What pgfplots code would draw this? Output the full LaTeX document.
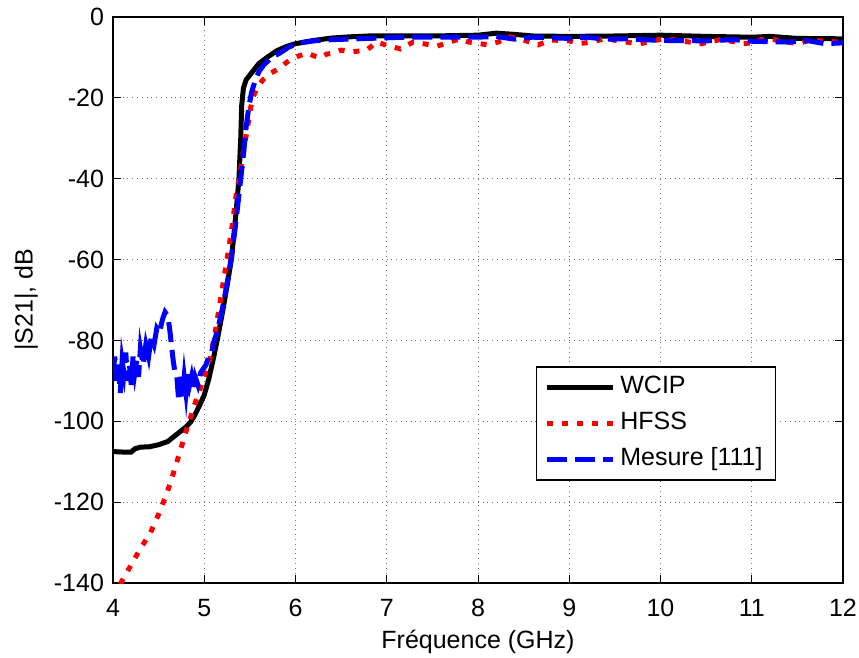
\documentclass[border=0pt]{standalone}
\usepackage{fontspec}
\setmainfont{Liberation Sans}
\usepackage{pgfplots}
\pgfplotsset{compat=1.18}
\newcommand{\ff}{\fontsize{12.5}{15}\selectfont}
\begin{document}
\begin{tikzpicture}
\begin{axis}[
  scale only axis, width=365pt, height=283pt,
  xmin=4, xmax=12, ymin=-140, ymax=0,
  xtick={4,5,...,12}, ytick={-140,-120,...,0},
  /pgf/number format/assume math mode=true,
  grid=major,
  major grid style={dotted, black!55, line width=0.5pt},
  tick align=inside, major tick length=4pt,
  tick style={black, line width=0.5pt},
  axis line style={line width=0.7pt},
  tick label style={font=\ff},
  xticklabel style={yshift=-4.5pt},
  yticklabel style={xshift=-1pt},
  label style={font=\ff},
  xlabel={Fréquence (GHz)},
  ylabel={|S21|, dB},
  xlabel style={at={(axis description cs:0.5,0)}, anchor=base, yshift=-32.5pt},
  ylabel style={at={(axis description cs:-0.119,0.5)}, anchor=center},
  legend style={at={(0.579,0.383)}, anchor=north west, font=\ff,
    draw=black, line width=0.7pt, inner xsep=4pt, inner ysep=2pt,
    row sep=1.5pt,
    nodes={inner sep=2.5pt, text height=9pt, text depth=2.5pt}},
  legend cell align=left,
  legend image code/.code={\draw[#1] (0pt,0pt) -- (33pt,0pt);},
]
\addplot[black, line width=2.5pt] coordinates {
(4.00,-107.5) (4.10,-107.6) (4.20,-107.6) (4.24,-106.8) (4.30,-106.4)
(4.40,-106.3) (4.50,-105.8) (4.60,-105.0) (4.70,-103.2) (4.80,-101.4)
(4.85,-100.2) (4.90,-98.3) (4.95,-96.0) (5.00,-93.5) (5.05,-89.5)
(5.10,-84.5) (5.15,-79.0) (5.20,-73.0) (5.25,-66.5) (5.30,-59.5)
(5.35,-48.0) (5.38,-40.0) (5.40,-30.0) (5.41,-22.0) (5.43,-17.5)
(5.46,-15.5) (5.53,-13.5) (5.60,-11.5) (5.70,-9.8) (5.80,-8.3)
(5.90,-7.3) (6.00,-6.6) (6.20,-5.8) (6.40,-5.2) (6.60,-4.9)
(6.80,-4.7) (7.00,-4.7) (7.50,-4.7) (8.00,-4.5) (8.20,-4.0)
(8.40,-4.3) (8.60,-4.7) (9.00,-4.8) (9.50,-4.7) (10.00,-4.5)
(10.50,-4.8) (11.00,-5.0) (11.20,-4.8) (11.50,-5.3) (12.00,-5.4)
};
\addlegendentry{WCIP}
\addplot[red, line width=2.5pt, line cap=butt, dash pattern=on 3pt off 4.5pt] coordinates {
(4.00,-143.5) (4.11,-139) (4.20,-135.5) (4.30,-131.5) (4.41,-127.6)
(4.50,-123) (4.59,-117.8) (4.66,-113) (4.73,-107.8) (4.80,-102.5)
(4.84,-99.7) (4.90,-95.5) (4.95,-92.3) (5.00,-89) (5.06,-84.8)
(5.12,-78) (5.17,-71) (5.22,-64) (5.27,-57) (5.31,-51)
(5.35,-44) (5.39,-39) (5.43,-33) (5.47,-28) (5.50,-23.5)
(5.53,-20) (5.58,-17.5) (5.64,-15.6) (5.72,-14) (5.80,-13)
(5.87,-11.8) (5.94,-10.6) (6.04,-9.6) (6.13,-8.9) (6.20,-9.6)
(6.27,-10.1) (6.34,-9.2) (6.41,-8.9) (6.50,-8.2) (6.63,-8.6)
(6.70,-8.4) (6.78,-8.2) (6.89,-6.2) (7.00,-7.0) (7.15,-7.9)
(7.29,-6.2) (7.40,-6.6) (7.55,-7.2) (7.69,-6.2) (7.80,-5.4)
(7.90,-6.2) (8.00,-6.5) (8.10,-6.9) (8.22,-6.2) (8.35,-4.9)
(8.50,-5.7) (8.66,-6.9) (8.80,-5.7) (9.00,-5.9) (9.10,-6.6)
(9.25,-6.2) (9.40,-5.3) (9.55,-6.0) (9.78,-6.6) (9.90,-6.0)
(10.05,-5.3) (10.25,-6.0) (10.45,-6.6) (10.67,-5.5) (10.90,-6.6)
(11.00,-6.4) (11.15,-5.3) (11.35,-6.0) (11.50,-6.6) (11.65,-5.7)
(11.80,-6.0) (11.95,-6.2) (12.00,-6.0)
};
\addlegendentry{HFSS}
\addplot[blue, line width=2.5pt, line cap=butt, dash pattern=on 10pt off 4pt] coordinates {
(4.00,-88) (4.02,-84) (4.04,-90) (4.06,-86) (4.08,-93)
(4.10,-85) (4.12,-88) (4.14,-83) (4.16,-90) (4.18,-86)
(4.20,-91) (4.22,-84) (4.24,-88) (4.26,-85) (4.28,-89)
(4.30,-82) (4.33,-86) (4.36,-81) (4.39,-84) (4.42,-79)
(4.45,-81) (4.48,-77) (4.51,-78) (4.54,-75) (4.57,-73)
(4.60,-74) (4.62,-77) (4.64,-81) (4.66,-85) (4.68,-88)
(4.70,-89) (4.72,-95) (4.74,-88) (4.76,-94) (4.78,-89)
(4.80,-93) (4.82,-88) (4.84,-91) (4.86,-89) (4.88,-92)
(4.90,-89) (4.93,-91) (4.96,-88) (4.99,-87) (5.02,-86)
(5.05,-84) (5.08,-83) (5.11,-80) (5.14,-78) (5.17,-75)
(5.20,-72) (5.25,-66) (5.30,-59) (5.34,-52) (5.37,-46)
(5.40,-40) (5.43,-34) (5.46,-27) (5.49,-22) (5.52,-18.5)
(5.56,-15.6) (5.60,-13.5) (5.65,-11.9) (5.74,-10) (5.83,-8.9)
(5.93,-7.4) (6.05,-6.4) (6.20,-5.9) (6.40,-5.6) (6.80,-5.3)
(7.20,-5.0) (7.60,-5.0) (8.00,-5.0) (8.20,-4.8) (8.40,-5.5)
(8.60,-5.0) (9.00,-5.3) (9.20,-5.0) (9.40,-5.5) (9.60,-5.4)
(10.00,-5.8) (10.50,-5.9) (10.80,-5.6) (11.00,-6.0) (11.40,-6.2)
(11.60,-5.8) (11.80,-6.6) (12.00,-6.4)
};
\addlegendentry{Mesure [111]}
\end{axis}
\pgfresetboundingbox
\useasboundingbox ([xshift=-56.5pt,yshift=-37pt]current axis.south west) rectangle ([xshift=8pt,yshift=8.5pt]current axis.north east);
\end{tikzpicture}
\end{document}
